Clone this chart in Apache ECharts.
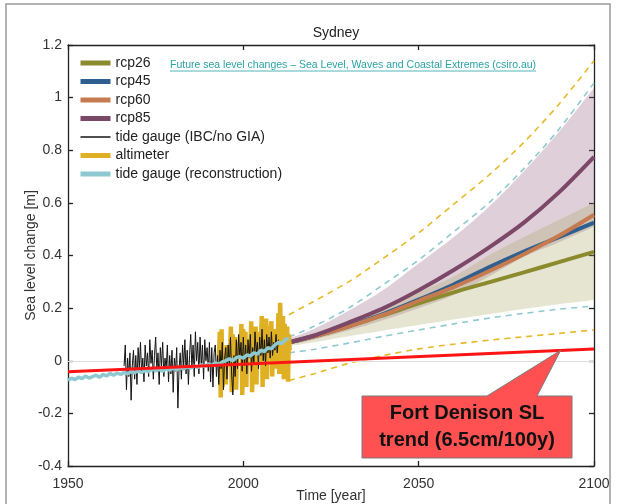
<!DOCTYPE html>
<html>
<head>
<meta charset="utf-8">
<script src="https://cdn.jsdelivr.net/npm/echarts@6/dist/echarts.min.js"></script>
<style>
html, body { margin: 0; padding: 0; background: #fff; }
#main { width: 617px; height: 504px; }
</style>
</head>
<body>
<div id="main"></div>
<script>
// axis ticks
var xTicks = [1950, 2000, 2050, 2100];
var yTicks = [-0.4, -0.2, 0, 0.2, 0.4, 0.6, 0.8, 1, 1.2];

// projections
var projYears = [2013, 2020, 2030, 2040, 2050, 2060, 2070, 2080, 2090, 2100];
var rcp26 = [0.07, 0.092, 0.13, 0.173, 0.218, 0.26, 0.298, 0.336, 0.375, 0.414];
var rcp45 = [0.07, 0.093, 0.132, 0.178, 0.232, 0.29, 0.355, 0.415, 0.47, 0.525];
var rcp60 = [0.07, 0.092, 0.13, 0.175, 0.228, 0.28, 0.34, 0.405, 0.475, 0.555];
var rcp85 = [0.07, 0.095, 0.145, 0.2, 0.268, 0.345, 0.43, 0.525, 0.64, 0.775];
var rcp85Hi = [0.085, 0.12, 0.19, 0.27, 0.37, 0.47, 0.585, 0.72, 0.87, 1.037];
var rcp85Lo = [0.06, 0.08, 0.115, 0.155, 0.2, 0.25, 0.32, 0.395, 0.45, 0.51];
var rcp26Hi = [0.08, 0.105, 0.15, 0.2, 0.26, 0.32, 0.4, 0.47, 0.535, 0.6];
var rcp26Lo = [0.055, 0.07, 0.093, 0.115, 0.136, 0.157, 0.177, 0.197, 0.215, 0.231];
var altHi = [0.175, 0.225, 0.3, 0.39, 0.486, 0.595, 0.705, 0.83, 0.975, 1.14];
var altLo = [-0.075, -0.05, -0.01, 0.02, 0.045, 0.063, 0.078, 0.091, 0.104, 0.117];
var tgHi = [0.09, 0.13, 0.2, 0.29, 0.383, 0.49, 0.6, 0.73, 0.88, 1.056];
var tgLo = [0.03, 0.043, 0.067, 0.093, 0.117, 0.14, 0.162, 0.18, 0.196, 0.208];

// tide gauge reconstruction, yearly from 1950
var reconStart = 1950;
var recon = [-0.075, -0.066, -0.072, -0.062, -0.068, -0.058, -0.066, -0.06, -0.055, -0.063,
  -0.052, -0.058, -0.048, -0.055, -0.047, -0.052, -0.044, -0.05, -0.04, -0.046,
  -0.038, -0.045, -0.036, -0.042, -0.03, -0.038, -0.033, -0.04, -0.03, -0.036,
  -0.028, -0.034, -0.025, -0.032, -0.022, -0.028, -0.02, -0.026, -0.015, -0.022,
  -0.012, -0.018, -0.008, -0.014, -0.004, 0.0, 0.008, 0.0, 0.012, 0.015,
  0.01, 0.022, 0.018, 0.03, 0.025, 0.04, 0.035, 0.05, 0.045, 0.06,
  0.07, 0.065, 0.08, 0.085];

// tide gauge (IBC/no GIA), three readings per year from 1966
var gaugeStart = 1966;
var gaugePerYear = 3;
var gauge = [-0.02, 0.06, -0.11, 0.01, -0.06, 0.03, -0.15, -0.02, 0.04, -0.07, 0.02, -0.09,
  0.05, -0.03, 0.07, -0.05, 0.01, -0.08, 0.06, -0.02, 0.03, -0.06, 0.08, -0.01,
  0.04, -0.07, 0.02, 0.09, -0.04, 0.03, -0.09, 0.05, -0.02, 0.07, -0.06, 0.01,
  -0.03, 0.06, -0.08, 0.02, -0.05, 0.04, -0.12, 0.01, -0.04, 0.05, -0.18, -0.03,
  0.03, -0.07, 0.06, -0.02, 0.08, -0.05, 0.04, -0.09, 0.02, 0.10, -0.03, 0.06,
  -0.06, 0.11, 0.0, 0.07, -0.05, 0.09, -0.02, 0.06, -0.07, 0.08, 0.0, 0.05,
  -0.04, 0.07, -0.08, 0.05, -0.1, 0.03, 0.06, -0.06, 0.02, -0.09, 0.04, -0.03,
  0.07, -0.11, 0.01, 0.05, -0.07, 0.06, -0.02, 0.09, -0.05, -0.13, 0.02, -0.06,
  0.08, -0.03, 0.1, 0.01, 0.07, -0.04, 0.09, -0.02, 0.06, -0.05, 0.08, 0.01,
  0.1, -0.04, 0.05, -0.01, 0.11, 0.03, 0.07, -0.03, 0.09, 0.02, 0.12, 0.0,
  0.08, -0.02, 0.1, 0.03, 0.09, 0.01, 0.11, 0.02, 0.07, 0.04, 0.1, 0.03, 0.08];

// altimeter
var altYears = [1993.0, 1993.3, 1993.55, 1993.8, 1994.05, 1994.3,
  1994.8, 1995.0, 1995.25, 1995.5,
  1996.2, 1996.45, 1996.7, 1996.95, 1997.2,
  1997.7, 1997.95, 1998.2, 1998.45,
  1999.2, 1999.45, 1999.7, 1999.95, 2000.2,
  2000.6, 2000.85, 2001.1, 2001.35,
  2002.0, 2002.25, 2002.5, 2002.75, 2003.0,
  2003.5, 2003.75, 2004.0, 2004.25,
  2005.0, 2005.25, 2005.5, 2005.75, 2006.0,
  2006.5, 2006.75, 2007.0, 2007.25,
  2008.0, 2008.25, 2008.5, 2008.75,
  2009.3, 2009.55, 2009.8,
  2010.0, 2010.25, 2010.5, 2010.75,
  2011.3, 2011.55, 2011.8, 2012.05,
  2012.5, 2012.75, 2013.0, 2013.2];
var altValues = [0.0, 0.11, -0.14, 0.12, -0.1, 0.0,
  0.05, -0.09, 0.06, 0.0,
  0.02, 0.13, -0.12, 0.1, 0.0,
  0.09, -0.11, 0.07, 0.01,
  0.03, 0.14, -0.13, 0.12, 0.01,
  0.11, -0.1, 0.08, 0.02,
  0.04, 0.15, -0.12, 0.13, 0.02,
  0.13, -0.09, 0.11, 0.03,
  0.05, 0.17, -0.1, 0.15, 0.03,
  0.16, -0.07, 0.13, 0.04,
  0.15, -0.06, 0.12, 0.04,
  0.12, -0.03, 0.05,
  0.18, -0.05, 0.22, 0.05,
  0.17, -0.07, 0.14, 0.05,
  0.13, -0.08, 0.1, 0.04];

// Fort Denison trend
var trendYears = [1950, 2100];
var trendValues = [-0.042, 0.045];

var FONT = 'Liberation Sans, Arial, sans-serif';

function zip(xs, ys) {
  return ys.map(function (v, i) { return [xs[i], v]; });
}
function lineSeries(name, data, color, width, extra) {
  var s = {
    name: name, type: 'line', data: data, symbol: 'none', silent: true,
    lineStyle: { color: color, width: width },
    itemStyle: { color: color }
  };
  for (var k in extra) s[k] = extra[k];
  return s;
}
function dashed(name, data, color) {
  return lineSeries(name, data, color, 1.6, {
    smooth: 0.3, z: 3, lineStyle: { color: color, width: 1.6, type: [6, 5] }
  });
}

// curve through pixel points (drawing only)
function spline(pts) {
  var out = [pts[0]];
  for (var i = 0; i < pts.length - 1; i++) {
    var p0 = pts[Math.max(i - 1, 0)], p1 = pts[i], p2 = pts[i + 1], p3 = pts[Math.min(i + 2, pts.length - 1)];
    for (var s = 1; s <= 8; s++) {
      var t = s / 8, t2 = t * t, t3 = t2 * t;
      out.push([0, 1].map(function (k) {
        return 0.5 * (2 * p1[k] + (p2[k] - p0[k]) * t +
          (2 * p0[k] - 5 * p1[k] + 4 * p2[k] - p3[k]) * t2 +
          (3 * p1[k] - p0[k] - 3 * p2[k] + p3[k]) * t3);
      }));
    }
  }
  return out;
}

// shaded range between lo and hi
function band(name, lo, hi, color, z) {
  return {
    name: name, type: 'custom', silent: true, z: z, clip: true,
    data: projYears.map(function (y, i) { return [y, lo[i], hi[i]]; }),
    encode: { x: 0, y: [1, 2] },
    renderItem: function (params, api) {
      if (params.dataIndex !== 0) return null;
      var up = spline(projYears.map(function (y, i) { return api.coord([y, hi[i]]); }));
      var dn = spline(projYears.map(function (y, i) { return api.coord([y, lo[i]]); }));
      return {
        type: 'polygon',
        shape: { points: up.concat(dn.reverse()) },
        style: { fill: color, stroke: null }
      };
    }
  };
}

var chart = echarts.init(document.getElementById('main'));

var axisCommon = {
  type: 'value',
  nameMoveOverlap: false,
  axisLine: { show: true, onZero: false, lineStyle: { color: '#222', width: 1.3 } },
  axisTick: { show: true, inside: true, length: 5, lineStyle: { color: '#222', width: 1.3 } },
  splitLine: { show: false }
};

var legendItems = ['rcp26', 'rcp45', 'rcp60', 'rcp85', 'tide gauge (IBC/no GIA)', 'altimeter', 'tide gauge (reconstruction)'];

var option = {
  animation: false,
  backgroundColor: '#fff',
  title: {
    text: 'Sydney', left: 331, top: 21, textAlign: 'center',
    textStyle: { fontFamily: FONT, fontSize: 14, fontWeight: 'normal', color: '#222' }
  },
  grid: { left: 68, right: 23, top: 45, bottom: 38, outerBoundsMode: 'none' },
  legend: {
    orient: 'vertical', left: 78, top: 56, padding: 0,
    itemWidth: 30, itemHeight: 14, itemGap: 4.5, icon: 'inherit',
    itemStyle: { opacity: 0 },
    textStyle: { fontFamily: FONT, fontSize: 14, color: '#222' },
    data: legendItems.map(function (n) {
      return { name: n, icon: 'inherit', lineStyle: { width: n === 'tide gauge (IBC/no GIA)' ? 1.5 : 5 } };
    })
  },
  xAxis: [
    Object.assign({}, axisCommon, {
      position: 'bottom', min: xTicks[0], max: xTicks[xTicks.length - 1], interval: xTicks[1] - xTicks[0],
      axisLabel: { fontFamily: FONT, fontSize: 14, color: '#333', margin: 11, formatter: function (v) { return String(v); } },
      name: 'Time [year]', nameLocation: 'middle', nameGap: 23,
      nameTextStyle: { fontFamily: FONT, fontSize: 14, color: '#333' }
    }),
    Object.assign({}, axisCommon, {
      position: 'top', min: xTicks[0], max: xTicks[xTicks.length - 1], interval: xTicks[1] - xTicks[0],
      axisLabel: { show: false }
    })
  ],
  yAxis: [
    Object.assign({}, axisCommon, {
      position: 'left', min: yTicks[0], max: yTicks[yTicks.length - 1], interval: 0.2,
      axisLabel: { fontFamily: FONT, fontSize: 14, color: '#333', margin: 6 },
      name: 'Sea level change [m]', nameLocation: 'middle', nameGap: 30,
      nameTextStyle: { fontFamily: FONT, fontSize: 14, color: '#333' }
    }),
    Object.assign({}, axisCommon, {
      position: 'right', min: yTicks[0], max: yTicks[yTicks.length - 1], interval: 0.2,
      axisLabel: { show: false }
    })
  ],
  series: [
    // zero reference line
    lineSeries('zero', [], '#ccc', 1, {
      z: 0,
      markLine: {
        silent: true, symbol: 'none', label: { show: false },
        lineStyle: { color: '#dcdcdc', width: 1, type: 'solid' },
        data: [{ yAxis: 0 }]
      }
    }),
    // uncertainty ranges
    band('rcp85 range', rcp85Lo, rcp85Hi, 'rgba(150,95,125,0.3)', 1),
    band('rcp26 range', rcp26Lo, rcp26Hi, 'rgba(165,160,95,0.28)', 2),
    // dashed envelopes
    dashed('altHi', zip(projYears, altHi), '#e6b929'),
    dashed('altLo', zip(projYears, altLo), '#e6b929'),
    dashed('tgHi', zip(projYears, tgHi), '#8fc9d2'),
    dashed('tgLo', zip(projYears, tgLo), '#8fc9d2'),
    // medians
    lineSeries('rcp26', zip(projYears, rcp26), '#8b8b2e', 4, { smooth: 0.3, z: 4 }),
    lineSeries('rcp45', zip(projYears, rcp45), '#2f5f8f', 4, { smooth: 0.3, z: 4 }),
    lineSeries('rcp60', zip(projYears, rcp60), '#c57a50', 4, { smooth: 0.3, z: 4 }),
    lineSeries('rcp85', zip(projYears, rcp85), '#7b4867', 4, { smooth: 0.3, z: 4 }),
    // observations
    lineSeries('altimeter', zip(altYears, altValues), '#e0b024', 4.5, { z: 5 }),
    lineSeries('tide gauge (IBC/no GIA)', gauge.map(function (v, i) { return [gaugeStart + i / gaugePerYear, v]; }), '#141414', 1, { z: 6 }),
    lineSeries('tide gauge (reconstruction)', recon.map(function (v, i) { return [reconStart + i, v]; }), '#8ec8d0', 3.5, { z: 7 }),
    lineSeries('trend', zip(trendYears, trendValues), '#ff1414', 3, { z: 8 })
  ]
};

chart.setOption(option);

// callout anchored to the trend line
var tipYear = 2090.5;
var tipVal = trendValues[0] + (trendValues[1] - trendValues[0]) * (tipYear - trendYears[0]) / (trendYears[1] - trendYears[0]);
var tip = chart.convertToPixel({ xAxisIndex: 0, yAxisIndex: 0 }, [tipYear, tipVal]);

var linkText = 'Future sea level changes \u2013 Sea Level, Waves and Coastal Extremes (csiro.au)';
var linkFont = '10.5px ' + FONT;
var ctx = document.createElement('canvas').getContext('2d');
ctx.font = linkFont;
var linkW = ctx.measureText(linkText).width;

chart.setOption({
  graphic: [
    {
      type: 'rect', silent: true, z: 0,
      shape: { x: 6, y: 4, width: 604, height: 530 },
      style: { fill: 'none', stroke: '#9a9a9a', lineWidth: 1.5 }
    },
    {
      type: 'text', silent: true, z: 20, x: 170, y: 65,
      style: { text: linkText, font: linkFont, fill: '#2aa3a6', verticalAlign: 'middle' }
    },
    {
      type: 'line', silent: true, z: 20,
      shape: { x1: 170, y1: 71, x2: 170 + linkW, y2: 71 },
      style: { stroke: '#2aa3a6', lineWidth: 0.8 }
    },
    {
      type: 'polygon', silent: true, z: 30,
      shape: { points: [[362, 396], [487, 396], [tip[0], tip[1]], [537, 396], [572, 396], [572, 458], [362, 458]] },
      style: { fill: '#ff5151', stroke: '#7a7a7a', lineWidth: 1 }
    },
    {
      type: 'text', silent: true, z: 31, x: 467, y: 427,
      style: {
        text: 'Fort Denison SL\ntrend (6.5cm/100y)', font: 'bold 20px ' + FONT,
        fill: '#111', align: 'center', verticalAlign: 'middle', lineHeight: 27
      }
    }
  ]
});
</script>
</body>
</html>
